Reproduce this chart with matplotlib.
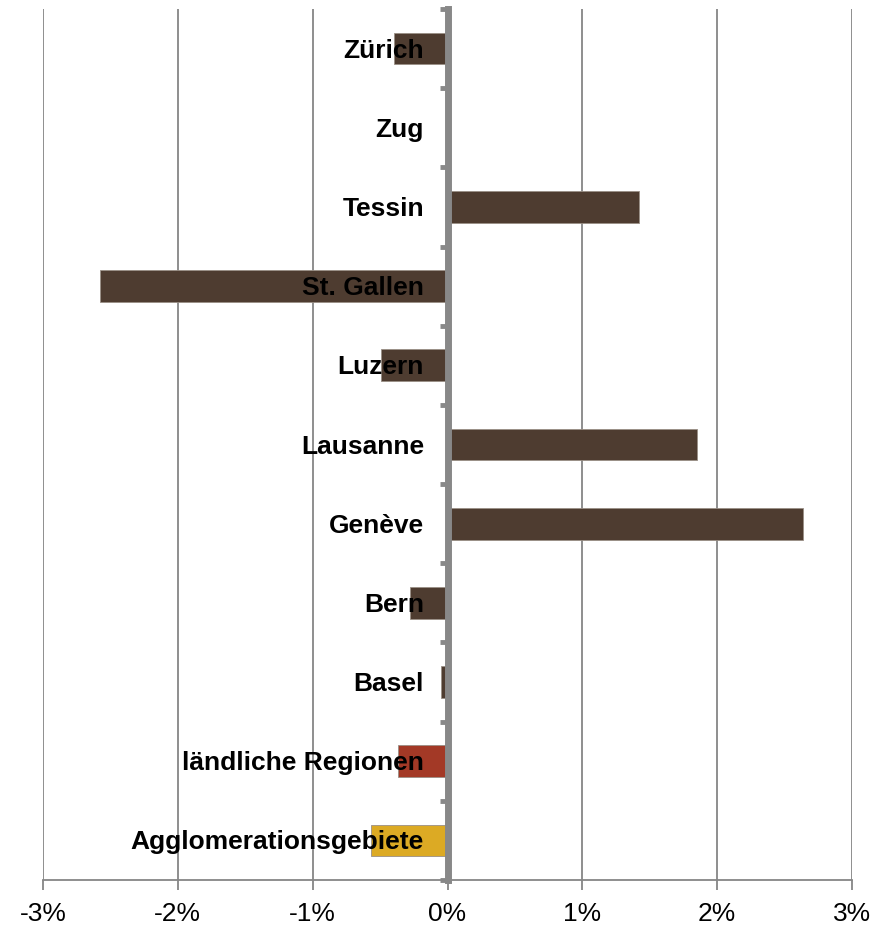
import numpy as np
import matplotlib.pyplot as plt
from matplotlib.ticker import FuncFormatter

# values in percent, top to bottom
regions = [
    "Zürich", "Zug", "Tessin", "St. Gallen", "Luzern", "Lausanne",
    "Genève", "Bern", "Basel", "ländliche Regionen", "Agglomerationsgebiete",
]
change = [-0.40, 0.0, 1.42, -2.58, -0.49, 1.85, 2.64, -0.28, -0.05, -0.37, -0.57]
bar_colors = ["#4e3c30"] * 9 + ["#a33926", "#dcaa24"]
x_ticks = [-3, -2, -1, 0, 1, 2, 3]

plt.rcParams["font.family"] = ["Liberation Sans", "DejaVu Sans"]

fig = plt.figure(figsize=(8.9, 9.25), dpi=100)
ax = fig.add_axes([43 / 890, 45 / 925, 809 / 890, 871 / 925])

y = np.arange(len(regions))
ax.barh(y, change, height=0.4, color=bar_colors, edgecolor="#9a8f86",
        linewidth=0.6, zorder=2)

ax.set_xlim(-3, 3)
ax.set_ylim(len(regions) - 0.5, -0.5)

# vertical gridlines
ax.set_xticks(x_ticks)
ax.xaxis.set_major_formatter(FuncFormatter(lambda v, p: f"{v:.0f}%"))
ax.grid(axis="x", color="#868686", linewidth=1.3, zorder=0)
ax.set_axisbelow(True)

for s in ["top", "right"]:
    ax.spines[s].set_visible(False)
ax.spines["bottom"].set_color("#868686")
ax.spines["bottom"].set_linewidth(1.3)
ax.spines["left"].set_position(("data", 0))
ax.spines["left"].set_color("#888888")
ax.spines["left"].set_linewidth(5)
ax.spines["left"].set_zorder(3)

ax.tick_params(axis="x", length=7, width=1.3, color="#868686",
               labelsize=19, pad=9)

# boundary ticks on the spine, labels drawn on top of the bars
ax.set_yticks([])
ax.set_yticks(np.arange(len(regions) + 1) - 0.5, minor=True)
ax.tick_params(axis="y", which="minor", length=6, width=3.5,
               color="#888888", direction="out", labelleft=False)
for i, name in enumerate(regions):
    ax.annotate(name, xy=(0, i), xytext=(-17, -1.5), textcoords="offset points",
                ha="right", va="center", fontsize=19, fontweight="bold",
                zorder=5)

fig.savefig("out.png", dpi=100)
